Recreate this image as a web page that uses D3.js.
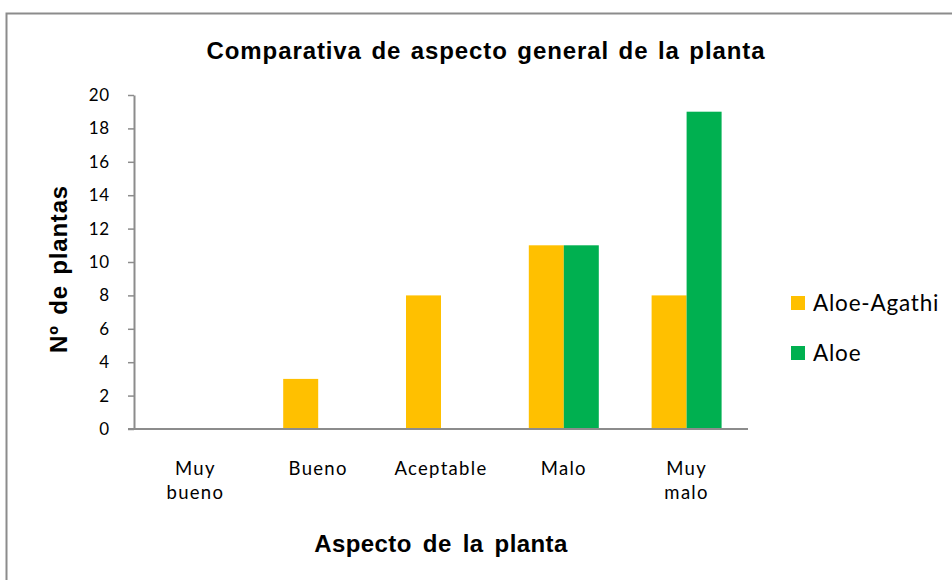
<!DOCTYPE html>
<html>
<head>
<meta charset="utf-8">
<script src="https://cdn.jsdelivr.net/npm/d3@7"></script>
<style>
  html, body { margin: 0; padding: 0; background: #fff; }
  svg { display: block; }
</style>
</head>
<body>
<svg id="chart" width="952" height="580"></svg>
<script>
// Chart data
const categories = ["Muy bueno", "Bueno", "Aceptable", "Malo", "Muy malo"];
const categoryLines = [["Muy", "bueno"], ["Bueno"], ["Aceptable"], ["Malo"], ["Muy", "malo"]];
const seriesNames = ["Aloe-Agathi", "Aloe"];
const aloeAgathi = [0, 3, 8, 11, 8];
const aloe = [0, 0, 0, 11, 19];
const yTicks = [0, 2, 4, 6, 8, 10, 12, 14, 16, 18, 20];
const seriesColors = ["#FFC000", "#00B050"];

const svg = d3.select("#chart");
const labelFont = "Lato, 'Open Sans', sans-serif";
const boldFont = "'Liberation Sans', Arial, sans-serif";

// Outer chart frame
svg.append("rect")
  .attr("x", 6.5).attr("y", 13.5)
  .attr("width", 960).attr("height", 600)
  .attr("fill", "#fff")
  .attr("stroke", "#8c8c8c").attr("stroke-width", 2);

const plot = { left: 134, right: 748, top: 95, bottom: 429 };

const x0 = d3.scaleBand()
  .domain(categories)
  .range([plot.left, plot.right])
  .paddingInner(0.43)
  .paddingOuter(0.215);

const x1 = d3.scaleBand()
  .domain(seriesNames)
  .range([0, x0.bandwidth()]);

const y = d3.scaleLinear().domain([0, 20]).range([plot.bottom, plot.top]);

// Bars
const seriesValues = [aloeAgathi, aloe];
seriesNames.forEach((name, si) => {
  svg.append("g").selectAll("rect")
    .data(categories.map((c, i) => ({ c, v: seriesValues[si][i] })))
    .join("rect")
    .attr("x", d => x0(d.c) + x1(name))
    .attr("y", d => y(d.v))
    .attr("width", x1.bandwidth())
    .attr("height", d => y(0) - y(d.v))
    .attr("fill", seriesColors[si]);
});

// Y axis
const yAxis = svg.append("g")
  .attr("transform", `translate(${plot.left},0)`)
  .call(d3.axisLeft(y).tickValues(yTicks).tickSize(6).tickPadding(18).tickSizeOuter(0));
yAxis.select(".domain").attr("stroke", "#8c8c8c").attr("stroke-width", 2);
yAxis.selectAll(".tick line").attr("stroke", "#8c8c8c").attr("stroke-width", 1.5);
yAxis.selectAll(".tick text")
  .attr("font-family", labelFont).attr("font-size", 17)
  .attr("letter-spacing", 0.8).attr("fill", "#000");

// X axis baseline
const xAxis = svg.append("g")
  .attr("transform", `translate(0,${plot.bottom})`)
  .call(d3.axisBottom(x0).tickSize(0).tickFormat(""));
xAxis.select(".domain")
  .attr("d", `M${plot.left - 6},0H${plot.right}`)
  .attr("stroke", "#8c8c8c").attr("stroke-width", 2);

// Category labels, wrapped onto two lines where needed
categories.forEach((c, i) => {
  const cx = x0(c) + x0.bandwidth() / 2;
  const t = svg.append("text")
    .attr("x", cx)
    .attr("y", 475)
    .attr("text-anchor", "middle")
    .attr("font-family", labelFont).attr("font-size", 18.5)
    .attr("letter-spacing", 1.3).attr("fill", "#000");
  categoryLines[i].forEach((line, li) => {
    t.append("tspan")
      .attr("x", cx)
      .attr("dy", li === 0 ? 0 : 24)
      .text(line);
  });
});

// Titles
svg.append("text")
  .attr("x", 486).attr("y", 59)
  .attr("text-anchor", "middle")
  .attr("font-family", boldFont).attr("font-weight", "bold").attr("font-size", 24)
  .attr("letter-spacing", 0.9).attr("word-spacing", 2)
  .text("Comparativa de aspecto general de la planta");

svg.append("text")
  .attr("x", (plot.left + plot.right) / 2).attr("y", 552)
  .attr("text-anchor", "middle")
  .attr("font-family", boldFont).attr("font-weight", "bold").attr("font-size", 24)
  .attr("letter-spacing", 0.4).attr("word-spacing", 4)
  .text("Aspecto de la planta");

svg.append("text")
  .attr("transform", "translate(67,269) rotate(-90)")
  .attr("text-anchor", "middle")
  .attr("font-family", boldFont).attr("font-weight", "bold").attr("font-size", 24)
  .attr("letter-spacing", 0.8).attr("word-spacing", 3)
  .text("Nº de plantas");

// Legend
const legend = svg.append("g");
seriesNames.forEach((name, i) => {
  const ly = 296 + i * 50;
  legend.append("rect")
    .attr("x", 791).attr("y", ly)
    .attr("width", 14).attr("height", 14)
    .attr("fill", seriesColors[i]);
  legend.append("text")
    .attr("x", 813).attr("y", ly + 15)
    .attr("font-family", labelFont).attr("font-size", 22.5)
    .attr("letter-spacing", 0.8).attr("fill", "#000")
    .text(name);
});
</script>
</body>
</html>
